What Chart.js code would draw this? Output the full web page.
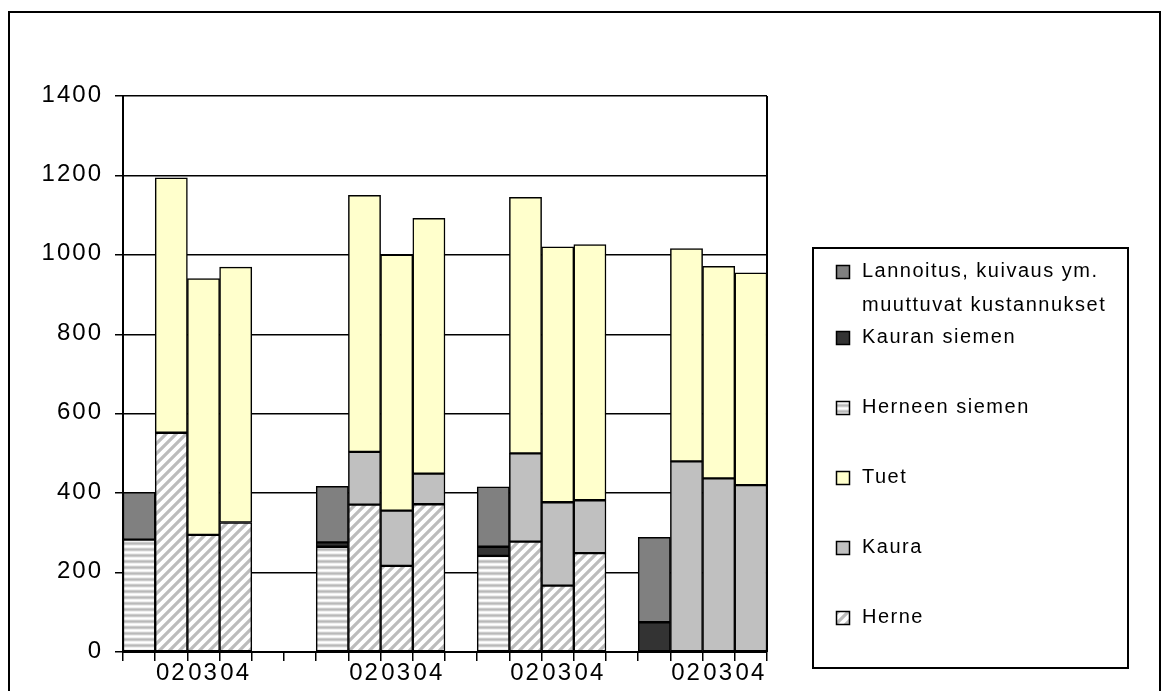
<!DOCTYPE html>
<html>
<head>
<meta charset="utf-8">
<title>Herne ja kaura: tuotot ja kustannukset</title>
<script src="https://cdn.jsdelivr.net/npm/chart.js@4/dist/chart.umd.min.js"></script>
<style>
  html, body { margin: 0; padding: 0; background: #ffffff; }
  canvas { display: block; }
</style>
</head>
<body>
<canvas id="chart" width="1169" height="691"></canvas>
<script>
// Category slots: first bar of each group = costs, then years 02, 03, 04; blank slots separate the groups
const categories = ['', '02', '03', '04', '', '', '', '02', '03', '04', '', '', '02', '03', '04', '', '', '02', '03', '04'];

// Revenue stack (bottom to top)
const herne = [null, 552, 295, 326, null, null, null, 371, 217, 372, null, null, 278, 167, 249, null, null, null, null, null];
const kaura = [null, null, null, null, null, null, null, 133, 139, 77, null, null, 222, 210, 133, null, null, 480, 437, 420];
const tuet  = [null, 642, 645, 643, null, null, null, 646, 644, 643, null, null, 645, 643, 644, null, null, 536, 534, 535];

// Cost stack (bottom to top)
const herneenSiemen = [283, null, null, null, null, null, 265, null, null, null, null, 242, null, null, null, null, null, null, null, null];
const kauranSiemen  = [null, null, null, null, null, null, 11, null, null, null, null, 23, null, null, null, null, 75, null, null, null];
const lannoitus     = [119, null, null, null, null, null, 141, null, null, null, null, 151, null, null, null, null, 214, null, null, null];

// Value axis
const yMin = 0;
const yMax = 1400;
const yStep = 200;

const FONT = '"Liberation Sans", Arial, Helvetica, sans-serif';

// Fill patterns
function diagonalPattern() {
  const c = document.createElement('canvas');
  c.width = 10; c.height = 10;
  const g = c.getContext('2d');
  g.fillStyle = '#ffffff';
  g.fillRect(0, 0, 10, 10);
  g.strokeStyle = '#bcbcbc';
  g.lineWidth = 3.2;
  g.beginPath();
  g.moveTo(-5, 5); g.lineTo(5, -5);
  g.moveTo(0, 10); g.lineTo(10, 0);
  g.moveTo(5, 15); g.lineTo(15, 5);
  g.stroke();
  return g.createPattern(c, 'repeat');
}

function stripePattern() {
  const c = document.createElement('canvas');
  c.width = 6; c.height = 6;
  const g = c.getContext('2d');
  const rows = ['#ffffff', '#f0f0f0', '#cbcbcb', '#b9b9b9', '#cbcbcb', '#f0f0f0'];
  rows.forEach((col, i) => { g.fillStyle = col; g.fillRect(0, i, 6, 1); });
  return g.createPattern(c, 'repeat');
}

const barStyle = {
  borderColor: '#000000',
  borderWidth: 1.5,
  borderSkipped: false,
  barPercentage: 1.0,
  categoryPercentage: 1.0,
  stack: 'total'
};

const datasets = [
  { label: 'Herne', data: herne, backgroundColor: diagonalPattern(), ...barStyle },
  { label: 'Kaura', data: kaura, backgroundColor: '#c0c0c0', ...barStyle },
  { label: 'Tuet', data: tuet, backgroundColor: '#ffffcc', ...barStyle },
  { label: 'Herneen siemen', data: herneenSiemen, backgroundColor: stripePattern(), ...barStyle },
  { label: 'Kauran siemen', data: kauranSiemen, backgroundColor: '#333333', ...barStyle },
  { label: 'Lannoitus, kuivaus ym.\nmuuttuvat kustannukset', data: lannoitus, backgroundColor: '#808080', ...barStyle }
];

// Outer frame, wider axis lettering and the plot-area right edge
const framePlugin = {
  id: 'frame',
  beforeDraw(chart) {
    const ctx = chart.ctx;
    ctx.save();
    ctx.fillStyle = '#ffffff';
    ctx.fillRect(0, 0, chart.width, chart.height);
    ctx.strokeStyle = '#000000';
    ctx.lineWidth = 2;
    ctx.strokeRect(9, 12, 1151, 760);
    ctx.restore();
    ctx.letterSpacing = '2px';
  },
  afterDatasetsDraw(chart) {
    const { ctx, chartArea } = chart;
    ctx.save();
    ctx.strokeStyle = '#000000';
    ctx.lineWidth = 2;
    ctx.beginPath();
    ctx.moveTo(chartArea.right, chartArea.top);
    ctx.lineTo(chartArea.right, chartArea.bottom);
    ctx.stroke();
    ctx.restore();
  }
};

// Boxed legend at the right, listing the series from the top of the stack down
const sideLegend = {
  id: 'sideLegend',
  afterDraw(chart) {
    const ctx = chart.ctx;
    ctx.save();
    ctx.strokeStyle = '#000000';
    ctx.lineWidth = 2;
    ctx.strokeRect(813, 248, 315, 420);
    ctx.letterSpacing = '1.5px';
    ctx.font = '20px ' + FONT;
    ctx.textBaseline = 'alphabetic';
    ctx.textAlign = 'left';
    const items = chart.data.datasets.slice().reverse();
    let y = 277;
    items.forEach((ds) => {
      const lines = ds.label.split('\n');
      ctx.fillStyle = ds.backgroundColor;
      ctx.fillRect(836, y - 12, 14, 14);
      ctx.lineWidth = 1.5;
      ctx.strokeStyle = '#000000';
      ctx.strokeRect(836.5, y - 11.5, 13, 13);
      ctx.fillStyle = '#000000';
      lines.forEach((t, k) => ctx.fillText(t, 862, y + k * 34));
      y += (lines.length - 1) * 34 + (lines.length > 1 ? 32 : 70);
    });
    ctx.restore();
  }
};

new Chart(document.getElementById('chart'), {
  type: 'bar',
  data: { labels: categories, datasets },
  options: {
    responsive: false,
    animation: false,
    devicePixelRatio: 1,
    layout: { padding: { left: 0, top: 96, right: 402, bottom: 0 } },
    plugins: {
      legend: { display: false },
      tooltip: { enabled: false },
      title: { display: false }
    },
    scales: {
      x: {
        stacked: true,
        offset: true,
        grid: {
          display: true,
          offset: true,
          drawOnChartArea: false,
          drawTicks: true,
          tickLength: 9,
          color: '#000000',
          lineWidth: 1.5
        },
        border: { display: true, color: '#000000', width: 2 },
        ticks: {
          autoSkip: false,
          maxRotation: 0,
          minRotation: 0,
          padding: 0,
          color: '#000000',
          font: { family: FONT, size: 24, lineHeight: 1 }
        },
        afterFit(scale) { scale.height = 39; }
      },
      y: {
        stacked: true,
        min: yMin,
        max: yMax,
        grid: {
          color: '#000000',
          lineWidth: 1.5,
          tickLength: 8,
          drawTicks: true
        },
        border: { display: true, color: '#000000', width: 2 },
        ticks: {
          stepSize: yStep,
          padding: 12,
          labelOffset: -1,
          color: '#000000',
          font: { family: FONT, size: 24, lineHeight: 1 },
          callback: (value) => String(value)
        },
        afterFit(scale) { scale.width = 123; }
      }
    }
  },
  plugins: [framePlugin, sideLegend]
});
</script>
</body>
</html>
